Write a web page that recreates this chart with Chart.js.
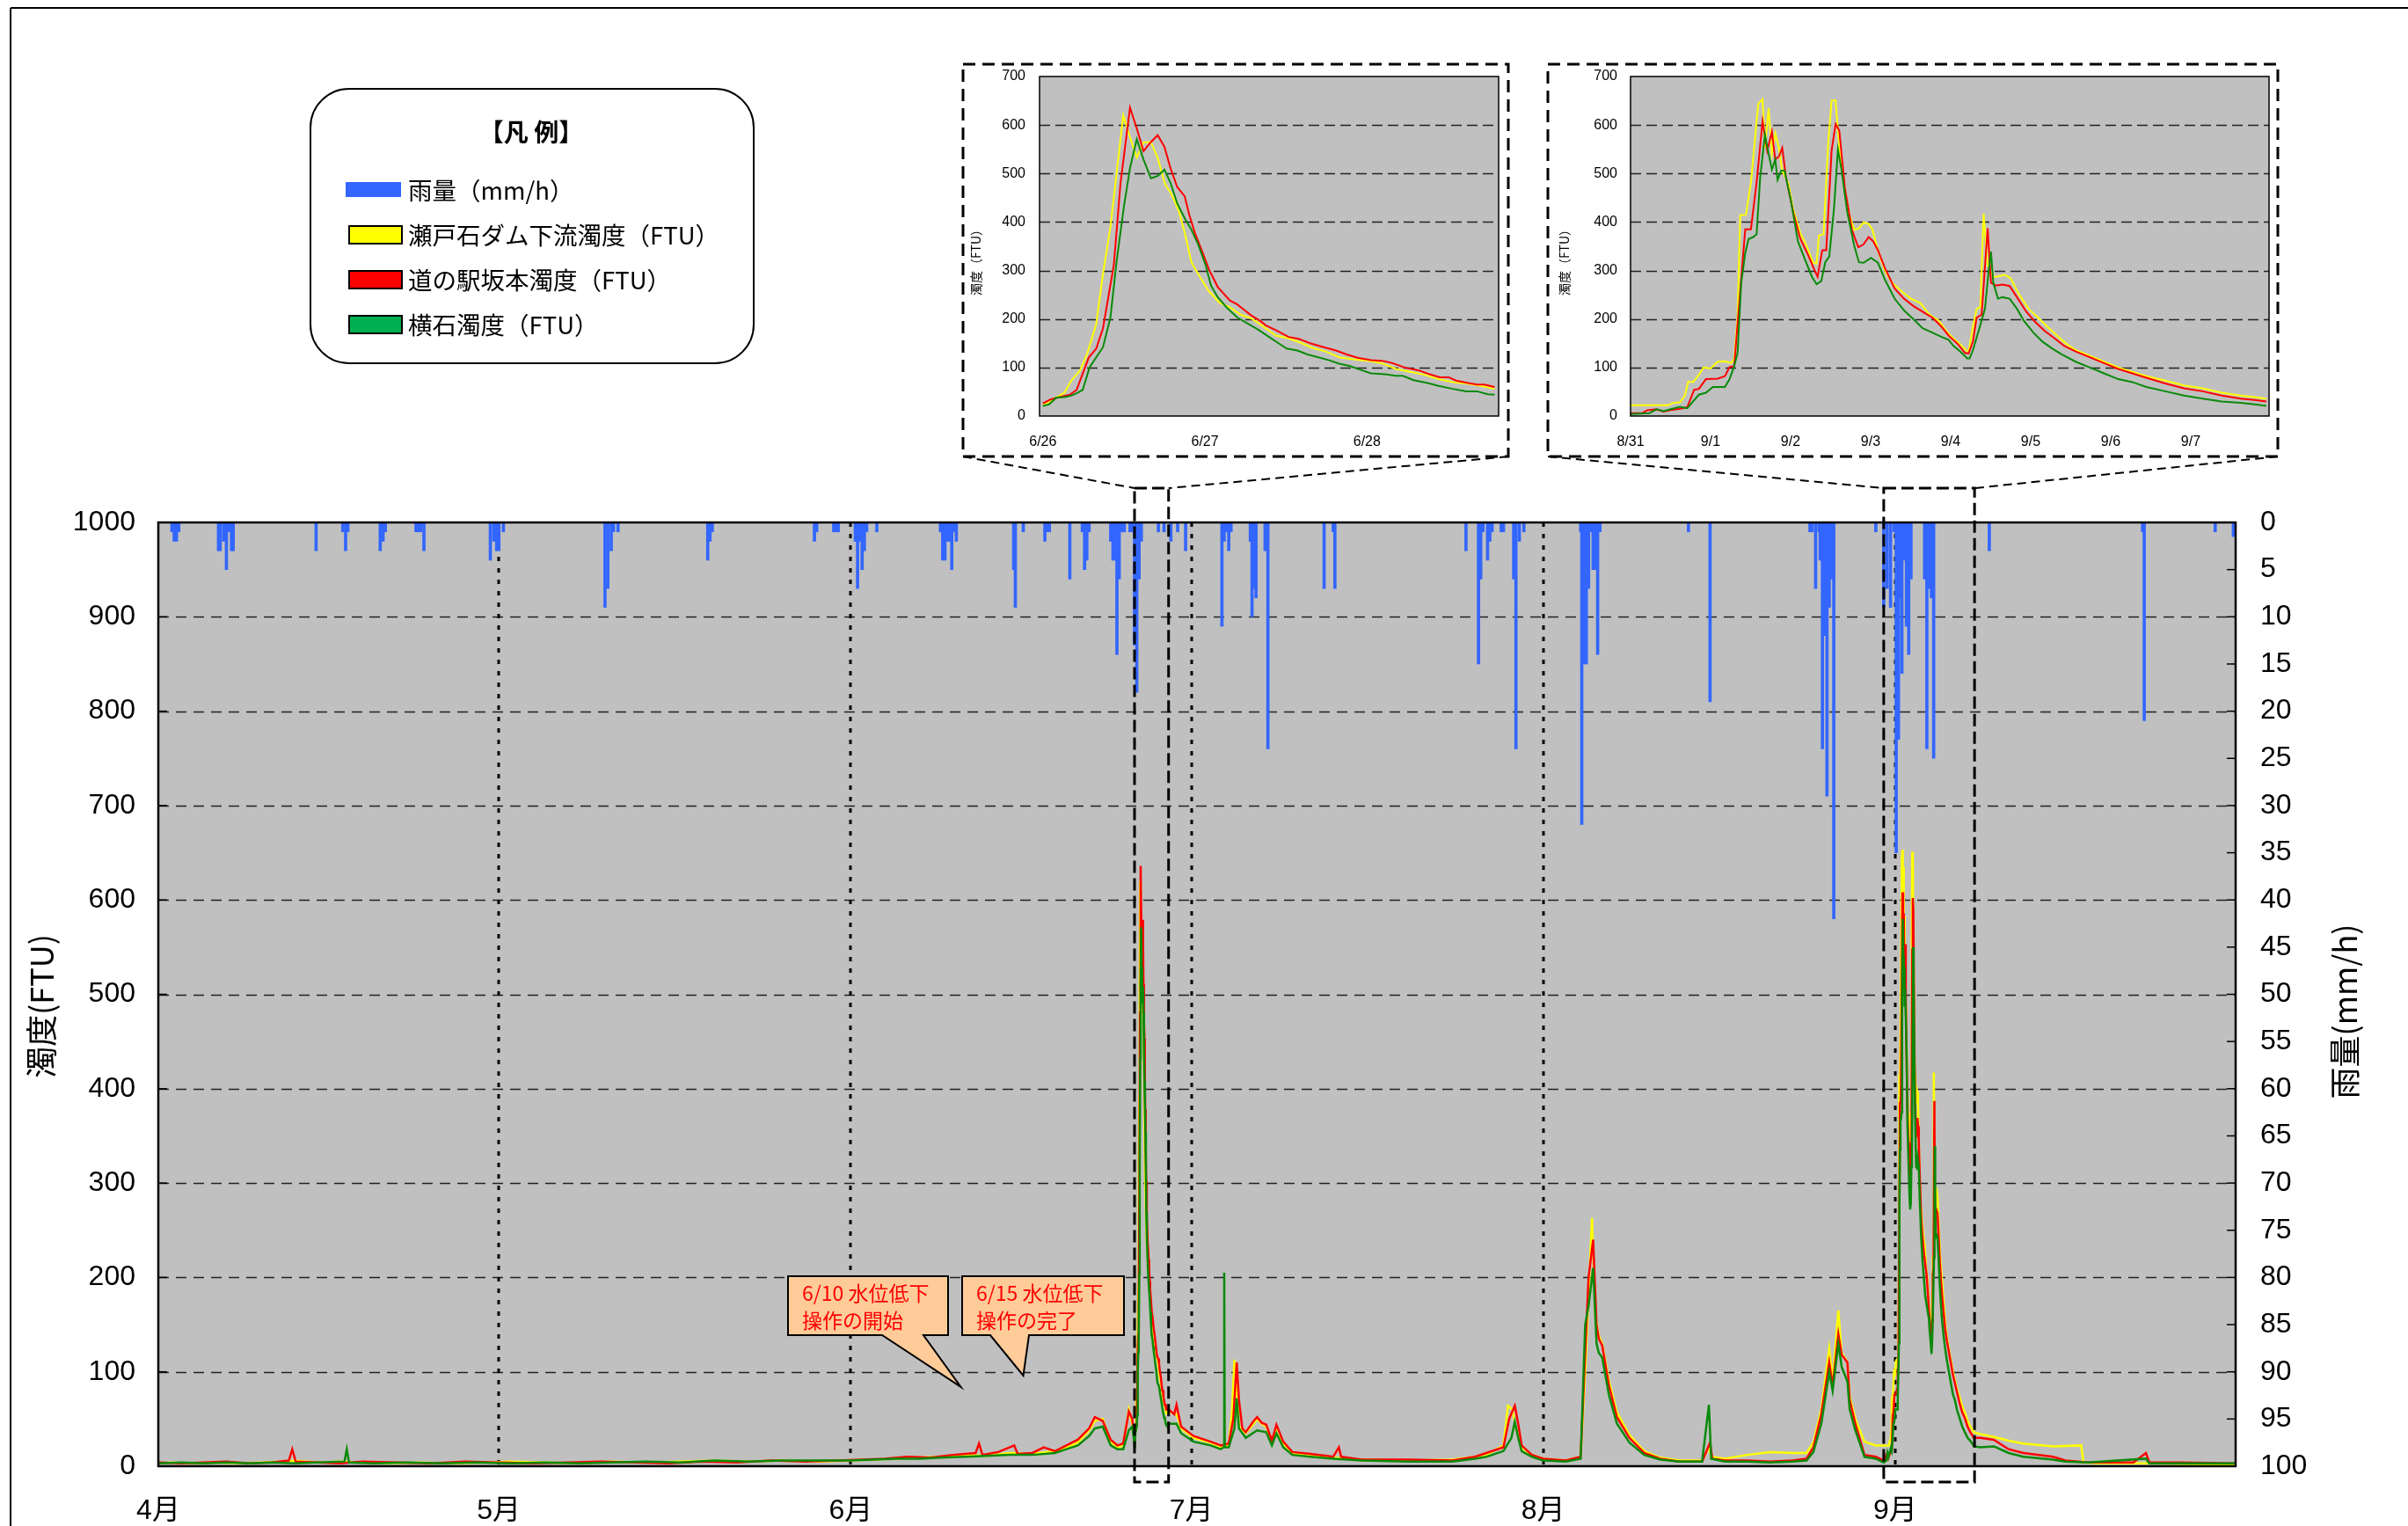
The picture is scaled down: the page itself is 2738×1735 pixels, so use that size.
<!DOCTYPE html>
<html lang="ja">
<head>
<meta charset="utf-8">
<title>濁度・雨量</title>
<script src="https://cdn.jsdelivr.net/npm/chart.js@4.4.1/dist/chart.umd.min.js"></script>
<style>
  body { margin: 0; background: #fff; }
  #wrap { position: relative; width: 2738px; height: 1735px; overflow: hidden; }
  #wrap canvas { position: absolute; }
</style>
</head>
<body>
<div id="wrap">
  <canvas id="main-chart" width="2738" height="1735" style="left:0;top:0"></canvas>
  <canvas id="inset-jun" width="620" height="446" style="left:1095px;top:73px"></canvas>
  <canvas id="inset-sep" width="830" height="446" style="left:1760px;top:73px"></canvas>
</div>
<script>
const JP = '"Noto Sans CJK JP", sans-serif';
const NUM = '"Liberation Sans", "Noto Sans CJK JP", sans-serif';

/*==================== DATA ====================*/
// main x axis = days counted from 4/1
const monthDays = [0, 30, 61, 91, 122, 153];
const monthLabels = ['4月', '5月', '6月', '7月', '8月', '9月'];
const seriesNames = ['雨量（mm/h）', '瀬戸石ダム下流濁度（FTU）', '道の駅坂本濁度（FTU）', '横石濁度（FTU）'];

// rainfall [day, mm/h]
const rainfall = [
  [1.2, 1], [1.4, 2], [1.6, 2], [1.8, 1],
  [5.3, 3], [5.45, 3], [5.75, 2], [5.9, 1], [6.0, 5], [6.15, 1], [6.3, 1], [6.45, 3], [6.6, 3],
  [13.9, 3], [16.25, 1], [16.5, 3], [16.7, 1],
  [19.55, 3], [19.8, 2], [20.0, 1],
  [22.7, 1], [22.9, 1], [23.1, 1], [23.4, 3],
  [29.25, 4], [29.55, 2], [29.8, 3], [30.0, 3], [30.4, 1],
  [39.35, 9], [39.6, 7], [39.9, 3], [40.1, 1], [40.5, 1],
  [48.4, 4], [48.6, 2], [48.8, 1],
  [57.8, 2], [58.0, 1], [59.5, 1], [59.7, 1], [59.9, 1],
  [61.4, 2], [61.6, 7], [61.8, 2], [62.0, 5], [62.2, 3], [62.4, 1], [63.3, 1],
  [68.9, 1], [69.1, 4], [69.3, 4], [69.5, 2], [69.7, 2], [69.9, 5], [70.1, 1], [70.3, 2],
  [75.35, 5], [75.5, 9], [76.2, 1],
  [78.1, 2], [78.3, 1], [78.5, 1], [80.3, 6],
  [81.4, 1], [81.6, 5], [81.8, 4], [82.0, 1],
  [83.9, 2], [84.1, 4], [84.3, 4], [84.45, 14], [84.65, 6], [84.9, 1], [85.1, 1],
  [85.6, 1], [85.8, 1], [86.0, 13], [86.2, 18], [86.4, 6], [86.6, 2],
  [88.1, 1], [88.6, 1], [89.2, 2], [89.8, 1], [90.5, 3],
  [93.7, 11], [93.9, 2], [94.1, 1], [94.3, 3], [94.5, 1],
  [96.2, 2], [96.35, 10], [96.5, 7], [96.7, 8],
  [97.5, 3], [97.75, 24],
  [102.7, 7], [103.5, 1], [103.65, 7],
  [115.2, 3], [116.3, 15], [116.5, 6], [116.7, 1],
  [117.1, 4], [117.3, 2], [117.5, 1], [118.3, 1], [118.5, 1],
  [119.4, 6], [119.6, 24], [119.9, 2], [120.3, 1],
  [125.3, 1], [125.4, 32], [125.6, 15], [125.8, 15], [126.0, 7], [126.2, 1], [126.4, 5], [126.6, 5], [126.8, 14], [127.0, 1],
  [134.8, 1], [136.7, 19],
  [145.5, 1], [145.7, 1], [146.0, 7], [146.3, 1], [146.4, 4], [146.6, 24], [146.8, 12], [147.0, 29], [147.2, 9], [147.4, 6], [147.6, 42],
  [151.3, 1],
  [152.0, 9], [152.3, 7], [152.6, 9], [152.9, 1],
  [153.1, 35], [153.3, 23], [153.45, 8], [153.6, 16], [153.8, 4], [154.0, 11], [154.2, 14], [154.4, 6],
  [155.6, 6], [155.8, 24], [156.0, 7], [156.2, 8], [156.4, 25],
  [161.3, 3], [174.8, 1], [174.95, 21], [181.2, 1], [182.8, 1.5]
];

// turbidity outside the two zoomed periods [day, FTU]
const yellowMain = [
  [0, 3], [1, 4], [3, 3], [5, 4], [7, 3], [9, 4], [11, 5], [12, 6], [14, 4], [16, 5], [18, 4], [20, 3],
  [23, 4], [26, 3], [29, 4], [31, 5], [34, 4], [37, 3], [40, 5], [43, 4], [46, 5], [49, 6], [52, 5],
  [55, 6], [58, 5], [61, 6], [63, 7], [65, 8], [67, 9], [69, 10], [71, 12], [73, 11], [75, 14], [77, 13],
  [79, 16], [80, 20], [81, 25], [82, 38], [82.5, 48], [83.2, 50], [83.9, 26], [84.5, 20], [85, 22],
  [85.5, 60], [85.8, 45], [85.97, 30],
  [89, 58], [89.7, 55], [90.1, 40], [91.2, 30], [92.7, 25], [93.6, 20], [94.3, 22], [94.6, 60], [94.8, 113],
  [95.0, 80], [95.2, 42], [95.8, 35], [96.5, 45], [96.8, 50], [97.2, 45], [97.6, 42], [98.1, 25], [98.5, 42],
  [99.1, 24], [99.9, 14], [101.5, 12], [103.5, 9], [106, 7], [110, 6], [114, 7], [116, 10], [117, 12],
  [118.5, 22], [118.9, 64], [119.3, 60], [119.6, 40], [120.1, 20], [121, 12], [122, 8], [124, 6],
  [125.3, 10], [125.7, 100], [126.0, 180], [126.3, 263], [126.6, 160], [126.9, 138], [127.2, 130],
  [127.8, 90], [128.5, 57], [129.6, 33], [130.9, 16], [132.3, 9], [134, 6], [136, 6], [136.6, 20],
  [136.8, 10], [138, 8], [140, 12], [142, 15], [144, 14], [145.2, 14], [145.8, 25], [146.5, 60],
  [147.2, 125], [147.5, 90], [148, 165], [148.3, 120], [148.8, 110], [149.0, 74], [149.5, 50],
  [150.3, 26], [151.3, 22],
  [160.5, 34], [161.7, 31], [163, 27], [164.3, 24], [166.9, 21], [169.4, 22], [169.6, 4], [171, 3],
  [175, 3], [180, 2], [183, 2]
];
const redMain = [
  [0, 4], [2, 3], [4, 4], [6, 5], [8, 3], [10, 4], [11.5, 6], [11.8, 18], [12.1, 5], [14, 4], [16, 3],
  [18, 5], [21, 4], [24, 3], [27, 5], [30, 4], [33, 3], [36, 4], [39, 5], [42, 4], [45, 3], [48, 5],
  [51, 4], [54, 6], [57, 5], [60, 6], [62, 7], [64, 8], [66, 10], [68, 9], [70, 12], [72, 14], [72.3, 24],
  [72.6, 12], [74, 15], [75.4, 22], [75.7, 13], [77, 14], [78, 20], [79, 16], [80, 22], [81, 28],
  [82, 40], [82.5, 52], [83.2, 48], [83.9, 28], [84.5, 22], [85, 24], [85.5, 58], [85.8, 50], [85.97, 30],
  [89, 60], [89.5, 55], [89.7, 65], [90.1, 42], [91.2, 32], [92.7, 26], [93.6, 22], [94.3, 24],
  [94.7, 50], [95.0, 110], [95.2, 70], [95.5, 40], [95.8, 36], [96.5, 48], [96.8, 52], [97.2, 46],
  [97.6, 44], [98.1, 27], [98.5, 44], [99.1, 26], [99.9, 15], [101.5, 13], [103.5, 10], [104, 20],
  [104.2, 10], [106, 7], [110, 7], [114, 6], [116, 10], [117, 14], [118.5, 20], [119.0, 50], [119.5, 64],
  [119.8, 45], [120.1, 22], [121, 12], [122, 8], [124, 6], [125.3, 10], [125.7, 120], [126.0, 200],
  [126.4, 240], [126.7, 150], [126.9, 135], [127.2, 128], [127.8, 85], [128.5, 52], [129.6, 30],
  [130.9, 14], [132.3, 8], [134, 5], [136, 5], [136.7, 25], [136.9, 8], [138, 6], [140, 6], [142, 5],
  [144, 6], [145.2, 8], [145.8, 20], [146.5, 55], [147.2, 110], [147.5, 85], [148, 140], [148.3, 118],
  [148.8, 110], [149.0, 70], [149.5, 45], [150.3, 12], [151.3, 10],
  [160.5, 30], [161.7, 28], [163, 18], [164.3, 14], [166.9, 10], [168, 6], [170, 4], [174, 4],
  [175.1, 14], [175.4, 4], [178, 4], [183, 3]
];
const greenMain = [
  [0, 3], [2, 4], [4, 3], [6, 4], [8, 3], [10, 4], [12, 3], [14, 4], [16.4, 5], [16.6, 18], [16.8, 4],
  [19, 3], [22, 4], [25, 3], [28, 4], [31, 3], [34, 4], [37, 3], [40, 4], [43, 5], [46, 4], [49, 6],
  [52, 5], [55, 6], [58, 6], [61, 6], [63, 7], [65, 8], [67, 8], [69, 9], [71, 10], [73, 11], [75, 12],
  [77, 12], [79, 14], [80, 18], [81, 22], [82, 32], [82.5, 40], [83.2, 42], [83.9, 22], [84.5, 18],
  [85, 18], [85.5, 38], [85.8, 42], [85.97, 25],
  [89, 45], [89.7, 45], [90.1, 35], [91.2, 26], [92.7, 22], [93.6, 18], [93.85, 20], [93.9, 205],
  [93.95, 20], [94.3, 20], [94.8, 40], [95.0, 72], [95.2, 40], [95.8, 30], [96.8, 38], [97.6, 36],
  [98.1, 22], [98.5, 35], [99.1, 20], [99.9, 12], [101.5, 10], [103.5, 8], [106, 6], [110, 5], [114, 5],
  [116, 8], [117, 10], [118.5, 16], [119.2, 30], [119.5, 47], [119.8, 30], [120.1, 16], [121, 10],
  [122, 6], [124, 5], [125.3, 8], [125.7, 150], [126.0, 170], [126.4, 210], [126.7, 130], [126.9, 120],
  [127.2, 115], [127.8, 75], [128.5, 45], [129.6, 25], [130.9, 12], [132.3, 7], [134, 5], [136, 5],
  [136.6, 65], [136.8, 8], [138, 5], [140, 5], [142, 4], [144, 5], [145.2, 6], [145.8, 15], [146.5, 45],
  [147.2, 100], [147.5, 80], [148, 130], [148.3, 105], [148.8, 90], [149.0, 60], [149.5, 38],
  [150.3, 10], [151.3, 8],
  [160.5, 20], [161.7, 21], [163, 14], [164.3, 10], [166.9, 7], [168, 5], [170, 4], [175.1, 8],
  [175.4, 3], [180, 3], [183, 3]
];

// zoom 1: hours from 6/26 0:00
const JUN_START = 86;
const junTicks = [0, 24, 48];
const junLabels = ['6/26', '6/27', '6/28'];
const junYellow = [
  [0, 22], [1.9, 38], [3.2, 48], [4.2, 73], [5.5, 94], [6.6, 130], [7.9, 190], [8.9, 293], [10, 390],
  [10.9, 499], [11.9, 620], [12.9, 575], [13.9, 533], [14.9, 564], [16, 565], [17, 532], [18.1, 478],
  [19.1, 456], [20.2, 420], [21, 378], [22, 317], [23, 293], [24.6, 257], [26.2, 233], [27.7, 224],
  [29.3, 209], [30.9, 201], [32.4, 187], [34.5, 166], [36.4, 160], [38.2, 151], [39.8, 141], [41.9, 133],
  [43.9, 121], [46, 117], [48.1, 114], [50.2, 109], [52.3, 97], [54.4, 91], [56.5, 85], [58.6, 76],
  [60.7, 70], [62.7, 67], [64.8, 62], [66.9, 56]
];
const junRed = [
  [0, 26], [1.1, 34], [2.7, 40], [4.0, 44], [5.0, 54], [6.8, 121], [7.9, 139], [8.9, 181], [10.5, 311],
  [11.5, 481], [12.9, 636], [13.9, 593], [14.9, 546], [16, 565], [17, 579], [18, 555], [18.9, 511],
  [19.9, 472], [21, 453], [21.7, 414], [22.5, 378], [23.6, 339], [24.6, 302], [25.9, 266], [27.7, 238],
  [28.8, 230], [29.8, 219], [30.9, 207], [32.2, 196], [33, 187], [34.5, 177], [36.4, 163], [37.9, 159],
  [39.8, 149], [41.6, 142], [43.4, 135], [45, 127], [46.6, 120], [48.6, 115], [50.2, 114], [51.8, 109],
  [53.6, 100], [55.7, 94], [57.3, 86], [58.8, 80], [60.1, 80], [61.2, 73], [63, 68], [64.3, 65],
  [65.4, 65], [66.9, 60]
];
const junGreen = [
  [0, 21], [0.9, 24], [2, 38], [3.2, 39], [4.2, 42], [5, 47], [5.9, 54], [6.9, 100], [7.9, 121],
  [8.9, 142], [10, 203], [10.9, 317], [12, 432], [12.9, 511], [13.9, 571], [14.9, 529], [16, 490],
  [17, 495], [18, 508], [18.9, 481], [19.9, 438], [21, 408], [22, 384], [23, 354], [24.1, 311],
  [24.9, 269], [25.9, 245], [27.2, 224], [28.8, 203], [30.4, 190], [31.9, 178], [33.5, 163], [34.8, 151],
  [36.1, 139], [37.7, 135], [39.2, 127], [40.8, 121], [42.4, 115], [43.9, 108], [45.5, 103], [47.1, 95],
  [48.6, 88], [50.7, 86], [52.3, 83], [53.3, 83], [54.9, 74], [57, 68], [58.6, 62], [60.7, 56],
  [62.7, 51], [64.3, 51], [65.9, 45], [66.9, 44]
];

// zoom 2: hours from 8/31 0:00
const SEP_START = 152;
const sepTicks = [0, 24, 48, 72, 96, 120, 144, 168];
const sepLabels = ['8/31', '9/1', '9/2', '9/3', '9/4', '9/5', '9/6', '9/7'];
const sepYellow = [
  [0, 22], [11.3, 22], [12.7, 27], [14.8, 28], [16.3, 42], [17.3, 71], [18.8, 70], [20.5, 85], [21.9, 100],
  [24, 98], [26.2, 112], [28.3, 113], [30.1, 109], [31.1, 118], [32.1, 203], [32.9, 414], [34.6, 415],
  [36.1, 481], [38.3, 644], [39.6, 653], [40.3, 553], [41.4, 635], [42.4, 541], [43.4, 583], [44.5, 553],
  [45.5, 505], [47.3, 481], [48.8, 426], [50.9, 378], [53, 348], [54.7, 317], [55.8, 314], [56.5, 372],
  [57.9, 375], [59.3, 565], [60.3, 650], [61.5, 651], [62.6, 553], [64.3, 463], [65.7, 414], [67.1, 384],
  [68.5, 387], [69.9, 399], [71.4, 396], [72.5, 385], [74.2, 342], [76.3, 299], [78.4, 275], [81.3, 257],
  [84.1, 242], [86.9, 233], [89.7, 209], [92.6, 196], [94.7, 175], [96.8, 160], [98.9, 148], [100.6, 136],
  [101.4, 133], [102.7, 184], [103.8, 221], [104.9, 224], [105.9, 417], [107.1, 311], [108.8, 287],
  [110.2, 288], [112.3, 291], [114, 284], [116.5, 251], [119.4, 221], [122.2, 203], [125, 184],
  [127.9, 166], [130.7, 149], [133.5, 136], [137.8, 124], [142, 112], [146.3, 100], [150.5, 91],
  [154.7, 82], [160.4, 73], [166, 63], [171.6, 57], [177.3, 48], [183, 42], [187.2, 39], [190.7, 36]
];
const sepRed = [
  [0, 6], [3.6, 6], [5, 12], [7.8, 14], [9.9, 9], [12, 12], [14.8, 15], [17, 18], [19.1, 54], [20.5, 56],
  [22.6, 76], [26.2, 77], [28.3, 82], [29.7, 101], [31.1, 103], [32.1, 190], [34.4, 385], [36.1, 385],
  [37.8, 481], [39.6, 608], [41, 547], [42.4, 586], [43.4, 529], [44.5, 535], [45.5, 553], [46.6, 493],
  [48.8, 420], [50.9, 366], [53, 336], [55.1, 302], [56.1, 287], [57.5, 342], [58.7, 342], [60.3, 547],
  [61.5, 602], [62.6, 589], [64.3, 469], [66.4, 384], [68.3, 348], [69.9, 354], [71.4, 369], [72.8, 360],
  [74.2, 342], [76.3, 305], [79.2, 263], [82, 242], [84.8, 227], [87.6, 215], [90.5, 203], [93.3, 184],
  [95.4, 166], [98.2, 148], [100.3, 130], [101.4, 129], [102.7, 154], [103.8, 203], [105.3, 209],
  [107.1, 387], [108.1, 275], [109.5, 269], [111.6, 271], [113.7, 268], [115.9, 245], [118.7, 215],
  [121.5, 193], [124.3, 175], [127.2, 160], [130, 145], [133.5, 133], [137.8, 121], [142, 109],
  [146.3, 97], [150.5, 88], [154.7, 79], [160.4, 67], [166, 57], [171.6, 51], [177.3, 42], [183, 36],
  [187.2, 33], [190.7, 30]
];
const sepGreen = [
  [0, 4], [5.7, 6], [7.8, 14], [9.9, 10], [12, 14], [14.8, 19], [17, 16], [20.5, 44], [22.6, 48],
  [24.7, 60], [28.3, 60], [29.7, 76], [31.1, 103], [32.1, 130], [33.2, 275], [34.4, 336], [35.4, 365],
  [36.8, 369], [37.8, 375], [38.9, 493], [40.3, 580], [41.4, 541], [42.4, 508], [43.4, 529], [44.1, 487],
  [45.2, 506], [46.2, 506], [48.1, 444], [50.2, 360], [52.3, 323], [54.4, 287], [55.8, 272], [57.2, 278],
  [58.4, 317], [59.6, 329], [61, 426], [62.2, 550], [63.2, 511], [65, 420], [67.1, 351], [68.5, 317],
  [69.9, 316], [72.1, 326], [74.2, 316], [76.3, 281], [79.2, 242], [82, 218], [84.8, 200], [87.6, 181],
  [90.5, 172], [93.3, 163], [95.4, 157], [96.8, 145], [98.9, 133], [101, 119], [101.7, 119], [102.7, 136],
  [104.5, 178], [106.3, 221], [107.4, 299], [108.1, 339], [108.8, 275], [110.2, 242], [111.6, 245],
  [113.7, 242], [115.9, 221], [118, 196], [120.8, 172], [123.6, 153], [126.5, 139], [129.3, 127],
  [133.5, 112], [137.8, 100], [142, 88], [146.3, 76], [150.5, 70], [154.7, 60], [160.4, 51], [166, 42],
  [171.6, 36], [177.3, 30], [183, 27], [187.2, 24], [190.7, 21]
];

/*==================== HELPERS ====================*/
const lineColors = ['#ffff00', '#ff0000', '#0a8a0a'];
const swatchColors = ['#3366ff', '#ffff00', '#ff0000', '#00b050'];

const seg = (ctx, x1, y1, x2, y2) => {
  ctx.beginPath(); ctx.moveTo(x1, y1); ctx.lineTo(x2, y2); ctx.stroke();
};
const vtext = (ctx, text, cx, cy) => {
  ctx.save(); ctx.translate(cx, cy); ctx.rotate(-Math.PI / 2);
  ctx.textAlign = 'center'; ctx.textBaseline = 'middle';
  ctx.fillText(text, 0, 0); ctx.restore();
};
const toPoints = (pairs, startDay = 0, perDay = 1) => pairs.map(([t, v]) => ({ x: startDay + t / perDay, y: v }));
// main series = readings outside the zooms + the zoom readings shifted into days
const joinSeries = (main, jun, sep) =>
  toPoints(main).concat(toPoints(jun, JUN_START, 24), toPoints(sep, SEP_START, 24)).sort((a, b) => a.x - b.x);

// layout of the zoom frames, in page pixels
const insetFrames = [
  { x: 1095, y: 73, w: 620, h: 446, from: JUN_START, to: JUN_START + 3 },
  { x: 1760, y: 73, w: 830, h: 446, from: SEP_START, to: SEP_START + 8 }
];
const callouts = [
  { box: [896, 1451, 182, 67], base: [1003, 1050], tip: [70.7, 84], text: ['6/10 水位低下', '操作の開始'] },
  { box: [1094, 1451, 184, 67], base: [1126, 1170], tip: [76.2, 96], text: ['6/15 水位低下', '操作の完了'] }
];

/*==================== MAIN CHART ====================*/
const mainDecor = {
  id: 'mainDecor',
  beforeDatasetsDraw(chart) {
    const { ctx, chartArea: a, scales: { x, ftu } } = chart;
    ctx.save();
    ctx.fillStyle = '#c0c0c0';
    ctx.fillRect(a.left, a.top, a.width, a.height);
    ctx.strokeStyle = '#222';
    ctx.lineWidth = 1.5;
    ctx.setLineDash([12, 8]);
    for (let v = 100; v < 1000; v += 100) {
      const y = Math.round(ftu.getPixelForValue(v)) + 0.5;
      seg(ctx, a.left, y, a.right, y);
    }
    ctx.strokeStyle = '#000';
    ctx.lineWidth = 3;
    ctx.setLineDash([5, 8]);
    monthDays.slice(1).forEach(d => {
      const px = Math.round(x.getPixelForValue(d));
      seg(ctx, px, a.top, px, a.bottom);
    });
    ctx.restore();
  },
  afterDatasetsDraw(chart) {
    const { ctx, chartArea: a, scales: { x, ftu, rain } } = chart;
    ctx.save();
    ctx.strokeStyle = '#000';
    ctx.setLineDash([]);
    // inward tick marks
    ctx.lineWidth = 1.5;
    for (let v = 100; v < 1000; v += 100) {
      const y = ftu.getPixelForValue(v);
      seg(ctx, a.left, y, a.left + 10, y);
    }
    for (let v = 5; v < 100; v += 5) {
      const y = rain.getPixelForValue(v);
      seg(ctx, a.right - 10, y, a.right, y);
    }
    ctx.lineWidth = 2.5;
    ctx.strokeRect(a.left, a.top, a.width, a.height);

    // zoomed periods, frames and connectors
    insetFrames.forEach(f => {
      const l = x.getPixelForValue(f.from), r = x.getPixelForValue(f.to);
      const top = a.top - 39, bottom = a.bottom + 18;
      ctx.lineWidth = 3;
      ctx.setLineDash([14, 6]);
      ctx.strokeRect(l, top, r - l, bottom - top);
      ctx.lineWidth = 2;
      ctx.setLineDash([10, 6]);
      seg(ctx, f.x, f.y + f.h, l, top);
      seg(ctx, f.x + f.w, f.y + f.h, r, top);
      ctx.lineWidth = 3;
      ctx.setLineDash([14, 8]);
      ctx.strokeRect(f.x, f.y, f.w, f.h);
    });
    ctx.setLineDash([]);

    // callouts
    callouts.forEach(c => {
      const [bx, by, bw, bh] = c.box;
      const bb = by + bh;
      const tx = x.getPixelForValue(c.tip[0]), ty = ftu.getPixelForValue(c.tip[1]);
      ctx.beginPath();
      ctx.moveTo(bx, by); ctx.lineTo(bx + bw, by); ctx.lineTo(bx + bw, bb);
      ctx.lineTo(c.base[1], bb); ctx.lineTo(tx, ty); ctx.lineTo(c.base[0], bb);
      ctx.lineTo(bx, bb); ctx.closePath();
      ctx.fillStyle = '#ffcc99';
      ctx.fill();
      ctx.lineWidth = 2;
      ctx.stroke();
      ctx.fillStyle = '#ff0000';
      ctx.font = '23px ' + JP;
      ctx.textAlign = 'left';
      ctx.textBaseline = 'middle';
      c.text.forEach((t, i) => ctx.fillText(t, bx + 16, by + 19 + i * 31));
    });

    // legend
    ctx.lineWidth = 2;
    ctx.strokeStyle = '#000';
    ctx.beginPath();
    ctx.roundRect(353, 101, 504, 312, 44);
    ctx.stroke();
    ctx.fillStyle = '#000';
    ctx.font = 'bold 28px ' + JP;
    ctx.textAlign = 'center';
    ctx.textBaseline = 'middle';
    ctx.fillText('【凡 例】', 604, 150);
    ctx.textAlign = 'left';
    ctx.font = '27.5px ' + JP;
    seriesNames.forEach((name, i) => {
      const cy = 216 + i * 51;
      ctx.fillStyle = swatchColors[i];
      if (i === 0) {
        ctx.fillRect(393, cy - 9, 63, 17);
      } else {
        ctx.fillRect(397, cy - 10, 60, 20);
        ctx.strokeRect(397, cy - 10, 60, 20);
      }
      ctx.fillStyle = '#000';
      ctx.fillText(name, 464, cy + 1);
    });

    // axis titles
    ctx.font = '36px ' + JP;
    vtext(ctx, '濁度(FTU)', 47, 1144);
    vtext(ctx, '雨量(mm/h)', 2666, 1150);

    // outer frame of the sheet
    ctx.lineWidth = 2;
    seg(ctx, 12, 9, 12, 1735);
    seg(ctx, 12, 9, 2738, 9);
    ctx.restore();
  }
};

const tickFont = { family: NUM, size: 32 };

new Chart(document.getElementById('main-chart'), {
  type: 'line',
  data: {
    datasets: [
      {
        type: 'bar', label: seriesNames[0], yAxisID: 'rain', order: 4,
        data: toPoints(rainfall), backgroundColor: swatchColors[0], barThickness: 3, grouped: false
      },
      { label: seriesNames[1], yAxisID: 'ftu', order: 3, data: joinSeries(yellowMain, junYellow, sepYellow),
        borderColor: lineColors[0], borderWidth: 2.5, pointRadius: 0 },
      { label: seriesNames[2], yAxisID: 'ftu', order: 2, data: joinSeries(redMain, junRed, sepRed),
        borderColor: lineColors[1], borderWidth: 2.5, pointRadius: 0 },
      { label: seriesNames[3], yAxisID: 'ftu', order: 1, data: joinSeries(greenMain, junGreen, sepGreen),
        borderColor: lineColors[2], borderWidth: 2.5, pointRadius: 0 }
    ]
  },
  options: {
    responsive: false,
    animation: false,
    devicePixelRatio: 1,
    layout: { padding: { top: 594, left: 0, right: 0, bottom: 0 } },
    plugins: { legend: { display: false }, tooltip: { enabled: false } },
    scales: {
      x: {
        type: 'linear', min: 0, max: 183, offset: false,
        grid: { display: false, drawTicks: false }, border: { display: false },
        afterBuildTicks: s => { s.ticks = monthDays.map(v => ({ value: v })); },
        afterFit: s => { s.height = 68; },
        ticks: { autoSkip: false, maxRotation: 0, padding: 32, color: '#000', font: tickFont,
          callback: v => monthLabels[monthDays.indexOf(v)] }
      },
      ftu: {
        position: 'left', min: 0, max: 1000,
        grid: { display: false, drawTicks: false }, border: { display: false },
        afterFit: s => { s.width = 180; },
        ticks: { stepSize: 100, padding: 26, color: '#000', font: tickFont, callback: v => String(v) }
      },
      rain: {
        position: 'right', reverse: true, min: 0, max: 100,
        grid: { display: false, drawTicks: false }, border: { display: false },
        afterFit: s => { s.width = 196; },
        ticks: { stepSize: 5, padding: 28, color: '#000', font: tickFont, callback: v => String(v) }
      }
    }
  },
  plugins: [mainDecor]
});

/*==================== ZOOM CHARTS ====================*/
const insetDecor = titleX => ({
  id: 'insetDecor',
  beforeDatasetsDraw(chart) {
    const { ctx, chartArea: a, scales: { y } } = chart;
    ctx.save();
    ctx.fillStyle = '#c0c0c0';
    ctx.fillRect(a.left, a.top, a.width, a.height);
    ctx.strokeStyle = '#222';
    ctx.lineWidth = 1.5;
    ctx.setLineDash([12, 6]);
    for (let v = 100; v < 700; v += 100) {
      const py = Math.round(y.getPixelForValue(v)) + 0.5;
      seg(ctx, a.left, py, a.right, py);
    }
    ctx.restore();
  },
  afterDatasetsDraw(chart) {
    const { ctx, chartArea: a } = chart;
    ctx.save();
    ctx.strokeStyle = '#000';
    ctx.lineWidth = 1.5;
    ctx.strokeRect(a.left, a.top, a.width, a.height);
    ctx.fillStyle = '#000';
    ctx.font = '14px ' + JP;
    vtext(ctx, '濁度（FTU）', titleX, 222);
    ctx.restore();
  }
});

const smallFont = { family: NUM, size: 16 };

const makeInset = (id, opt) => new Chart(document.getElementById(id), {
  type: 'line',
  data: {
    datasets: opt.series.map((s, i) => ({
      data: toPoints(s), borderColor: lineColors[i], borderWidth: 2, pointRadius: 0, order: 3 - i
    }))
  },
  options: {
    responsive: false,
    animation: false,
    devicePixelRatio: 1,
    layout: { padding: { top: 14, right: opt.right, left: 0, bottom: 0 } },
    plugins: { legend: { display: false }, tooltip: { enabled: false } },
    scales: {
      x: {
        type: 'linear', min: opt.min, max: opt.max,
        grid: { display: false, drawTicks: false }, border: { display: false },
        afterBuildTicks: s => { s.ticks = opt.ticks.map(v => ({ value: v })); },
        afterFit: s => { s.height = 46; s.paddingLeft = 0; s.paddingRight = 0; },
        ticks: { autoSkip: false, maxRotation: 0, padding: 20, color: '#000', font: smallFont,
          callback: v => opt.labels[opt.ticks.indexOf(v)] }
      },
      y: {
        min: 0, max: 700,
        grid: { display: false, drawTicks: false }, border: { display: false },
        afterFit: s => { s.width = opt.left; s.paddingTop = 0; s.paddingBottom = 0; },
        ticks: { stepSize: 100, padding: opt.pad, color: '#000', font: smallFont }
      }
    }
  },
  plugins: [insetDecor(opt.titleX)]
});

makeInset('inset-jun', {
  series: [junYellow, junRed, junGreen], ticks: junTicks, labels: junLabels,
  min: -0.5, max: 67.5, left: 87, right: 11, pad: 16, titleX: 15
});
makeInset('inset-sep', {
  series: [sepYellow, sepRed, sepGreen], ticks: sepTicks, labels: sepLabels,
  min: 0, max: 191.5, left: 94, right: 10, pad: 15, titleX: 19
});
</script>
</body>
</html>
